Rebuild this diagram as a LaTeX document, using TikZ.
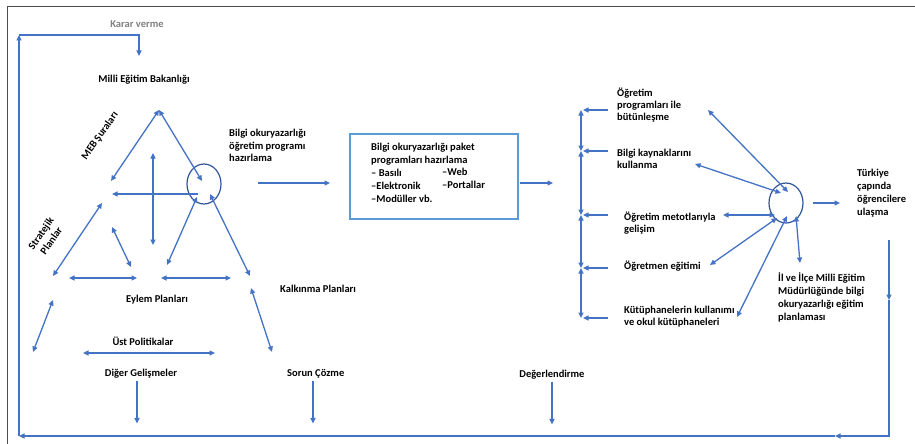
\documentclass[tikz,border=0pt]{standalone}
\usepackage{fontspec}
\setmainfont{Carlito}
\usepackage{tikz}
\usetikzlibrary{shapes.geometric, arrows.meta}
\definecolor{linkblue}{HTML}{4472C4}
\definecolor{hubblue}{HTML}{2F5597}
\definecolor{boxblue}{HTML}{5B9BD5}
\tikzstyle{lbl} = [inner sep=0pt, font=\bfseries\fontsize{10.5}{12.5}\selectfont, align=left, text=black]
\tikzstyle{tight} = [font=\bfseries\fontsize{10.5}{12}\selectfont]
\tikzstyle{loose} = [font=\bfseries\fontsize{10.5}{12.9}\selectfont]
\tikzstyle{hub} = [ellipse, minimum width=34pt, minimum height=40pt, draw=hubblue, line width=1.2pt, inner sep=0pt]
\tikzstyle{pkgbox} = [rectangle, minimum width=168pt, minimum height=85pt, draw=boxblue, line width=1.5pt]
\tikzstyle{arrow} = [line width=1.3pt, draw=linkblue, ->, >={Triangle[length=5.5pt,width=5pt]}]
\tikzstyle{darrow} = [line width=1.3pt, draw=linkblue, <->, >={Triangle[length=5.5pt,width=5pt]}]

\begin{document}
\begin{tikzpicture}[x=1pt, y=-1pt]
  \useasboundingbox (0,0) rectangle (915,444);
  % frame
  \draw[gray!60!black, line width=0.8pt] (7,444) -- (7,6) -- (915,6);

  %----------------------------------------------------%
  \node(karar) [lbl, text=gray, anchor=base] at (137,27.5) {Karar verme};
  \node(meb) [lbl, anchor=base] at (144,82.5) {Milli Eğitim Bakanlığı};
  \node(sura) [lbl, rotate=55] at (100,136) {MEB Şuraları};
  \node(strat) [lbl, rotate=55, align=center] at (46,237) {Stratejik\\Planlar};
  \node(eylem) [lbl, anchor=base] at (157,302.5) {Eylem Planları};
  \node(kalk) [lbl, anchor=base west] at (280,292.5) {Kalkınma Planları};
  \node(ust) [lbl, anchor=base] at (143,345.5) {Üst Politikalar};
  \node(diger) [lbl, anchor=base] at (141,376.5) {Diğer Gelişmeler};
  \node(sorun) [lbl, anchor=base west] at (287,376.5) {Sorun Çözme};
  \node(deger) [lbl, anchor=base] at (552,377.5) {Değerlendirme};
  \node(prog) [lbl, anchor=base west] at (229,161.5) {Bilgi okuryazarlığı\\öğretim programı\\hazırlama};
  \node(c1) [hub] at (204,184) {};

  \coordinate (tl) at (19,35);
  \coordinate (kv) at (139,56);
  \coordinate (bl) at (19,436);
  \coordinate (br) at (889,436);
  \coordinate (rtop) at (889,240);
  \coordinate (rmid) at (889,300);
  \coordinate (bmid) at (835,436);

  \coordinate (apex) at (159,110);
  \coordinate (t1) at (111,181);
  \coordinate (t2) at (202,181);
  \coordinate (t3) at (153,153);
  \coordinate (t4) at (153,245);
  \coordinate (t5) at (198,194);
  \coordinate (t6) at (112,194);
  \coordinate (t7) at (210,194);
  \coordinate (t8) at (250,276);
  \coordinate (t9) at (197,197);
  \coordinate (t10) at (167,265);
  \coordinate (t11) at (102,203);
  \coordinate (t12) at (53,276);
  \coordinate (t13) at (112,227);
  \coordinate (t14) at (131,267);
  \coordinate (t15) at (69,278);
  \coordinate (t16) at (137,278);
  \coordinate (t17) at (161,278);
  \coordinate (t18) at (231,278);
  \coordinate (t19) at (53,300);
  \coordinate (t20) at (33,352);
  \coordinate (t21) at (251,288);
  \coordinate (t22) at (272,352);
  \coordinate (t23) at (83,353);
  \coordinate (t24) at (215,353);

  \draw[darrow] (apex) -- (t1);
  \draw[darrow] (apex) -- (t2);
  \draw[darrow] (t3) -- (t4);
  \draw[arrow] (t5) -- (t6);
  \draw[darrow] (t7) -- (t8);
  \draw[darrow] (t9) -- (t10);
  \draw[darrow] (t11) -- (t12);
  \draw[darrow] (t13) -- (t14);
  \draw[darrow] (t15) -- (t16);
  \draw[darrow] (t17) -- (t18);
  \draw[darrow] (t19) -- (t20);
  \draw[darrow] (t21) -- (t22);
  \draw[darrow] (t23) -- (t24);
  \draw[arrow] (diger.south) ++(-4,3) coordinate (d1) -- ++(0,42);
  \draw[arrow] (sorun.south west) ++(26,3) coordinate (s1) -- ++(0,42);
  \draw[arrow] (deger.south) ++(0,3) coordinate (g1) -- ++(0,42);

  %----------------------------------------------------%
  \node(pkg) [pkgbox, anchor=north west] at (349,133) {};
  \node(pkgtxt) [lbl, loose, anchor=base west] at (371,202) {Bilgi okuryazarlığı paket\\programları hazırlama\\– Basılı\\–Elektronik\\–Modüller vb.};
  \node(web) [lbl, loose, anchor=base west] at (442,188.5) {–Web\\–Portallar};
  \coordinate (m1) at (258,183);
  \coordinate (m2) at (330,183);
  \coordinate (m3) at (520,183);
  \coordinate (m4) at (553,183);
  \draw[arrow] (m1) -- (m2);
  \draw[arrow] (m3) -- (m4);

  %----------------------------------------------------%
  \node(r1) [lbl, tight, anchor=base west] at (617,120.5) {Öğretim\\programları ile\\bütünleşme};
  \node(r2) [lbl, tight, anchor=base west] at (617,168.5) {Bilgi kaynaklarını\\kullanma};
  \node(r3) [lbl, tight, anchor=base west] at (624,232.5) {Öğretim metotlarıyla\\gelişim};
  \node(r4) [lbl, tight, anchor=base west] at (624,269.5) {Öğretmen eğitimi};
  \node(r5) [lbl, tight, anchor=base west] at (624,325.5) {Kütüphanelerin kullanımı\\ve okul kütüphaneleri};
  \foreach \y [count=\i] in {110,151,215,268,318} {
    \coordinate (v\i) at (581,\y);
    \draw[arrow] (608,\y) -- (583,\y);
  }
  \draw[darrow] (v1) -- (v2);
  \draw[darrow] (v2) -- (v3);
  \draw[darrow] (v3) -- (v4);
  \draw[darrow] (v4) -- (v5);

  \node(c2) [hub] at (786,203) {};
  \node(turk) [lbl, loose, anchor=base west] at (857,215) {Türkiye\\çapında\\öğrencilere\\ulaşma};
  \node(ilce) [lbl, loose, anchor=base west] at (778,320.5) {İl ve İlçe Milli Eğitim\\Müdürlüğünde bilgi\\okuryazarlığı eğitim\\planlaması};
  \coordinate (h1) at (788,192);
  \coordinate (h2) at (781,193);
  \coordinate (h3) at (775,215);
  \coordinate (h4) at (777,218);
  \coordinate (h5) at (787,216);
  \coordinate (h6) at (796,216);
  \coordinate (h7) at (813,203);
  \draw[darrow] (h1) -- (708,110);
  \draw[darrow] (h2) -- (695,164);
  \draw[darrow] (h3) -- (723,215);
  \draw[darrow] (h4) -- (710,265);
  \draw[darrow] (h5) -- (737,317);
  \draw[darrow] (h6) -- (800,263);
  \draw[arrow] (h7) -- (840,203);

  %----------------------------------------------------%
  \draw[arrow] (rtop) -- (rmid);
  \draw[arrow] (rmid) -- (br) -- (bmid);
  \draw[arrow] (bmid) -- (bl);
  \draw[arrow] (bl) -- (tl);
  \draw[arrow] (tl) -| (kv);
\end{tikzpicture}
\end{document}
